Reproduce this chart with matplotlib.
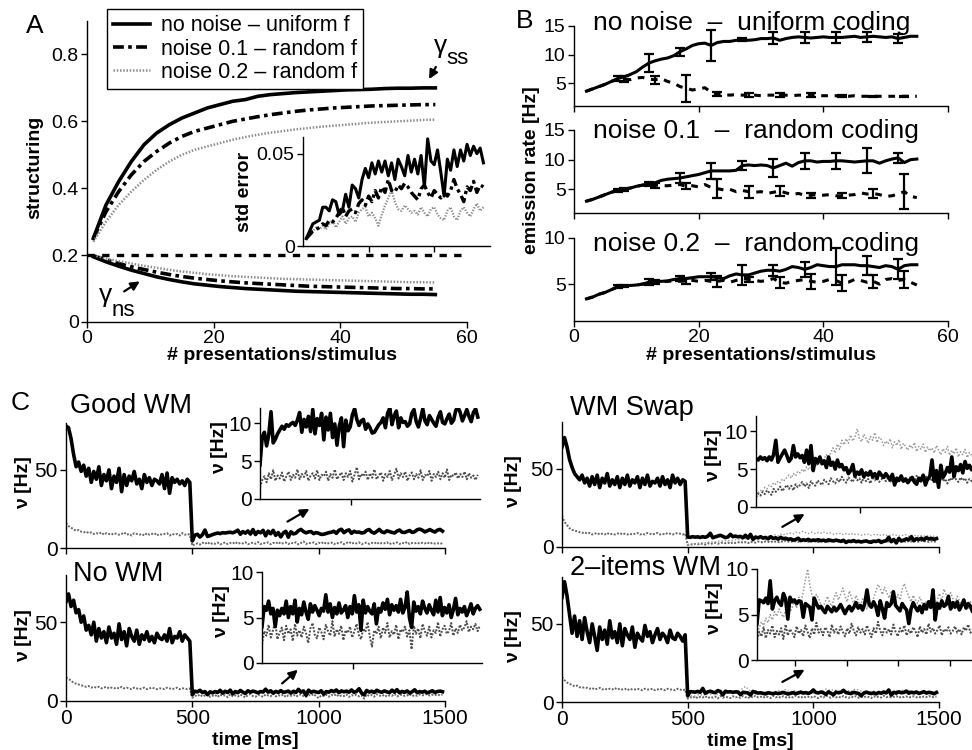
import numpy as np
import matplotlib
matplotlib.use('Agg')
import matplotlib.pyplot as plt

plt.rcParams['font.family'] = ['Liberation Sans', 'DejaVu Sans']
plt.rcParams['axes.linewidth'] = 1.0

# ---------------- panel A : structuring vs presentations ----------------
a_x = np.arange(1, 56, 2)
a_ss_none = [0.25, 0.35, 0.42, 0.48, 0.53, 0.565, 0.59, 0.61, 0.625, 0.64, 0.65, 0.66, 0.665, 0.675,
             0.68, 0.683, 0.686, 0.688, 0.69, 0.692, 0.694, 0.695, 0.696, 0.698, 0.699, 0.699, 0.70, 0.70]
a_ss_n01 = [0.25, 0.33, 0.39, 0.44, 0.48, 0.51, 0.535, 0.555, 0.57, 0.58, 0.59, 0.60, 0.607, 0.614,
            0.62, 0.625, 0.63, 0.634, 0.637, 0.64, 0.642, 0.644, 0.646, 0.647, 0.648, 0.649, 0.65, 0.65]
a_ss_n02 = [0.24, 0.30, 0.35, 0.39, 0.425, 0.455, 0.48, 0.50, 0.515, 0.525, 0.535, 0.545, 0.553, 0.56,
            0.566, 0.571, 0.576, 0.58, 0.584, 0.587, 0.59, 0.593, 0.596, 0.598, 0.60, 0.602, 0.604, 0.605]
a_ns_none = [0.195, 0.18, 0.167, 0.155, 0.145, 0.135, 0.127, 0.12, 0.114, 0.11, 0.106, 0.103, 0.10, 0.098,
             0.096, 0.094, 0.092, 0.091, 0.09, 0.089, 0.088, 0.087, 0.086, 0.085, 0.084, 0.083, 0.083, 0.082]
a_ns_n01 = [0.198, 0.186, 0.175, 0.165, 0.157, 0.149, 0.142, 0.136, 0.131, 0.127, 0.123, 0.12, 0.117, 0.115,
            0.113, 0.111, 0.109, 0.107, 0.106, 0.105, 0.104, 0.103, 0.102, 0.101, 0.10, 0.10, 0.099, 0.099]
a_ns_n02 = [0.20, 0.19, 0.182, 0.175, 0.168, 0.162, 0.156, 0.151, 0.147, 0.143, 0.14, 0.137, 0.135, 0.133,
            0.131, 0.129, 0.128, 0.127, 0.126, 0.125, 0.124, 0.123, 0.122, 0.121, 0.12, 0.119, 0.119, 0.118]
a_chance = 0.2

# inset: std error
se_x = np.arange(1, 56)
se_none = [0.004, 0.008, 0.012, 0.013, 0.014, 0.021, 0.021, 0.019, 0.025, 0.024, 0.017, 0.019, 0.028, 0.021,
           0.033, 0.031, 0.026, 0.036, 0.042, 0.037, 0.045, 0.039, 0.046, 0.040, 0.046, 0.038, 0.045, 0.036,
           0.047, 0.043, 0.038, 0.049, 0.040, 0.047, 0.039, 0.049, 0.032, 0.058, 0.046, 0.044, 0.052, 0.040,
           0.027, 0.047, 0.041, 0.052, 0.043, 0.052, 0.046, 0.055, 0.049, 0.054, 0.050, 0.053, 0.045]
se_n01 = [0.004, 0.006, 0.008, 0.009, 0.010, 0.012, 0.011, 0.014, 0.013, 0.015, 0.018, 0.021, 0.016, 0.019,
          0.020, 0.018, 0.023, 0.025, 0.022, 0.027, 0.024, 0.030, 0.026, 0.032, 0.029, 0.036, 0.030, 0.029,
          0.033, 0.031, 0.034, 0.032, 0.029, 0.027, 0.025, 0.031, 0.033, 0.029, 0.026, 0.030, 0.028, 0.026,
          0.029, 0.027, 0.030, 0.036, 0.031, 0.028, 0.024, 0.032, 0.030, 0.035, 0.029, 0.033, 0.032]
se_n02 = [0.004, 0.007, 0.008, 0.010, 0.009, 0.011, 0.009, 0.012, 0.014, 0.010, 0.013, 0.016, 0.012, 0.015,
          0.016, 0.013, 0.018, 0.020, 0.021, 0.016, 0.018, 0.015, 0.011, 0.017, 0.022, 0.026, 0.030, 0.024,
          0.020, 0.019, 0.022, 0.020, 0.018, 0.019, 0.017, 0.021, 0.018, 0.016, 0.020, 0.021, 0.017, 0.015,
          0.014, 0.019, 0.021, 0.016, 0.014, 0.019, 0.021, 0.018, 0.016, 0.020, 0.023, 0.019, 0.021]

# ---------------- panel B : emission rates ----------------
b_x = np.arange(2, 56)
b1_sel = [3.6, 4.0, 4.4, 4.8, 5.3, 5.8, 6.1, 6.5, 7.0, 7.8, 8.5, 8.9, 9.2, 9.4, 9.8, 10.5, 11.0, 11.6,
          11.9, 12.0, 11.6, 12.1, 12.3, 12.3, 12.5, 12.6, 12.5, 12.6, 12.8, 12.8, 12.9, 12.5, 12.8, 13.0,
          13.1, 13.0, 12.9, 13.0, 13.1, 13.0, 13.0, 13.0, 13.1, 13.2, 13.0, 13.1, 13.2, 13.1, 13.0, 13.1,
          12.8, 13.0, 13.2, 13.2]
b1_non = [3.6, 4.0, 4.4, 4.8, 5.3, 5.7, 5.7, 5.6, 5.9, 6.0, 5.7, 5.6, 5.8, 5.3, 5.0, 4.4, 4.1, 3.8,
          4.0, 4.2, 3.4, 3.1, 3.0, 2.9, 3.0, 2.9, 2.9, 2.9, 2.8, 2.9, 2.9, 2.9, 2.9, 2.8, 2.9, 2.9, 2.9,
          2.8, 2.8, 2.8, 2.8, 2.7, 2.7, 2.8, 2.7, 2.7, 2.7, 2.7, 2.7, 2.7, 2.7, 2.7, 2.7, 2.7]
b2_sel = [3.0, 3.3, 3.7, 4.1, 4.5, 4.8, 5.0, 5.2, 5.5, 5.7, 5.9, 6.1, 6.5, 6.7, 6.8, 6.9, 7.1, 7.3,
          7.5, 7.8, 8.1, 8.1, 8.1, 8.1, 8.2, 9.0, 9.1, 9.0, 9.1, 9.0, 8.6, 9.0, 9.4, 8.9, 9.5, 9.8, 9.8,
          9.6, 9.7, 9.7, 9.8, 9.8, 9.7, 9.6, 9.7, 9.8, 9.8, 9.4, 9.8, 10.1, 10.3, 9.5, 10.0, 10.1]
b2_non = [3.0, 3.3, 3.7, 4.1, 4.5, 4.8, 5.0, 5.2, 5.5, 5.7, 5.8, 5.7, 5.6, 5.6, 5.7, 5.8, 5.5, 5.6,
          5.4, 5.8, 5.3, 5.1, 4.9, 5.0, 4.6, 4.8, 4.6, 4.5, 4.6, 4.3, 4.5, 4.7, 4.4, 4.1, 4.3, 4.0, 4.0,
          4.1, 4.0, 4.1, 3.9, 3.9, 4.0, 4.1, 4.4, 4.2, 4.3, 4.1, 3.8, 3.9, 4.2, 4.6, 3.8, 3.6]
b3_sel = [3.4, 3.6, 3.9, 4.1, 4.4, 4.7, 4.8, 4.85, 4.9, 5.0, 5.2, 5.25, 5.3, 5.35, 5.5, 5.6, 5.6, 5.7,
          5.8, 5.8, 5.8, 5.7, 5.6, 5.9, 6.1, 6.0, 6.0, 6.2, 6.4, 6.5, 6.5, 6.4, 6.6, 6.9, 6.8, 6.6, 6.8,
          7.1, 7.0, 6.9, 6.9, 7.1, 7.1, 7.1, 7.0, 7.0, 6.9, 6.8, 7.0, 6.9, 6.6, 7.0, 7.1, 7.1]
b3_non = [3.4, 3.6, 3.9, 4.1, 4.4, 4.7, 4.8, 4.85, 4.9, 5.0, 5.1, 5.2, 5.25, 5.3, 5.35, 5.3, 5.35, 5.4,
          5.3, 5.4, 5.3, 5.3, 5.4, 5.2, 5.4, 5.6, 5.5, 5.4, 5.3, 5.4, 5.6, 5.2, 5.1, 5.3, 5.4, 5.5, 5.3,
          5.2, 5.3, 5.5, 5.4, 5.1, 5.2, 5.5, 5.4, 5.2, 5.3, 5.0, 5.5, 5.6, 5.4, 5.5, 5.2, 4.9]

b_err_x_sel = [7, 12, 17, 22, 27, 32, 37, 42, 47, 52]
b_err_x_non = [8, 13, 18, 23, 28, 33, 38, 43, 48, 53]
b1_err_sel = [0.4, 1.6, 0.7, 2.7, 0.3, 1.0, 1.0, 1.0, 0.9, 0.8]
b1_err_non = [0.5, 0.7, 2.4, 0.4, 0.4, 0.3, 0.3, 0.15, 0.1, 0.1]
b2_err_sel = [0.3, 0.4, 0.8, 1.3, 0.8, 1.5, 1.4, 1.4, 2.1, 0.8]
b2_err_non = [0.3, 0.4, 0.5, 1.6, 1.0, 0.9, 0.4, 0.4, 0.8, 3.0]
b3_err_sel = [0.15, 0.3, 0.3, 0.4, 1.1, 0.6, 0.8, 2.0, 1.0, 1.1]
b3_err_non = [0.1, 0.2, 0.3, 0.6, 0.3, 0.6, 0.8, 0.9, 0.7, 0.9]
b_titles = ['no noise  \u2013  uniform coding', 'noise 0.1  \u2013  random coding',
            'noise 0.2  \u2013  random coding']

# ---------------- panel C : rates vs time ----------------
t_ms = np.arange(0, 1500, 10)
good_solid = [78, 77, 70, 60, 52, 55, 49, 53, 46, 51,
              42, 49, 44, 52, 40, 47, 43, 50, 38, 46,
              42, 51, 36, 47, 40, 46, 43, 49, 41, 44,
              38, 47, 42, 45, 40, 44, 43, 41, 47, 38,
              48, 35, 45, 42, 44, 41, 43, 40, 44, 42,
              4.5, 8.2, 8.8, 7.0, 8.5, 11.5, 7.4, 7.9, 8.6, 9.1,
              9.6, 9.2, 9.8, 9.6, 9.9, 10.1, 9.7, 10.4, 11.4, 8.8,
              10.5, 9.5, 10.9, 8.9, 11.8, 8.6, 10.6, 9.7, 11.3, 7.8,
              10.8, 9.1, 11.3, 8.1, 9.9, 7.1, 9.6, 10.7, 6.9, 10.4,
              9.0, 9.5, 11.1, 11.9, 10.5, 9.7, 10.3, 10.5, 9.2, 9.9,
              9.4, 8.7, 8.8, 9.3, 9.8, 10.1, 10.7, 9.4, 11.3, 12.0,
              9.8, 11.0, 11.6, 9.4, 10.7, 10.1, 10.2, 9.6, 9.9, 11.3,
              11.8, 10.2, 9.5, 10.6, 11.9, 10.3, 9.8, 11.0, 10.5, 10.0,
              9.6, 10.8, 11.5, 10.1, 9.9, 10.6, 11.2, 10.0, 10.4, 11.7,
              12.1, 11.4, 10.3, 11.0, 11.8, 10.9, 10.2, 11.4, 11.9, 10.8]
good_gray = [16, 14, 13, 12, 11, 11.5, 10.5, 10, 10.5, 9.5,
             10, 9, 9.5, 9, 10, 8.5, 9.5, 9, 8.5, 9.5,
             9, 8.5, 9, 10, 8.5, 9, 8, 9.5, 9, 8.5,
             9, 8, 9.5, 8.5, 9, 9.5, 8, 9, 8.5, 9,
             9.5, 8, 9, 8.5, 9, 8, 9.5, 8.5, 9, 8.5,
             1.5, 2.5, 3.0, 2.2, 3.4, 2.6, 3.8, 2.4, 3.1, 2.7,
             3.5, 2.3, 3.0, 3.6, 2.5, 3.2, 2.8, 3.9, 2.6, 3.3,
             2.9, 3.7, 2.4, 3.1, 3.4, 2.7, 3.8, 2.5, 3.2, 3.0,
             3.6, 2.4, 3.3, 2.8, 3.9, 2.6, 3.1, 3.5, 2.5, 3.4,
             2.9, 3.7, 2.3, 3.2, 4.2, 2.6, 3.3, 3.0, 3.6, 2.5,
             3.4, 2.8, 3.9, 2.6, 3.1, 3.5, 2.4, 3.3, 2.9, 3.7,
             2.5, 3.2, 4.0, 2.7, 3.4, 2.9, 3.6, 2.4, 3.1, 3.5,
             2.6, 3.3, 2.8, 3.8, 2.5, 3.2, 3.0, 3.7, 2.4, 3.3,
             2.9, 3.6, 2.6, 3.4, 2.8, 3.9, 2.5, 3.2, 3.0, 3.5,
             2.7, 3.3, 2.9, 3.6, 2.6, 3.4, 2.8, 3.1, 2.5, 3.2]

nowm_solid = [63, 68, 60, 64, 56, 58, 50, 54, 45, 48,
              42, 50, 38, 46, 40, 44, 37, 47, 40, 43,
              36, 49, 39, 44, 35, 46, 41, 38, 45, 36,
              42, 39, 44, 38, 41, 37, 43, 40, 39, 42,
              38, 46, 37, 41, 40, 44, 38, 42, 40, 38,
              4.0, 6.2, 5.8, 6.8, 5.4, 6.0, 4.0, 5.8, 5.2, 6.0,
              5.4, 6.8, 5.0, 6.2, 5.4, 6.9, 4.5, 6.0, 5.3, 6.7,
              5.6, 4.8, 6.5, 5.6, 6.3, 5.8, 5.2, 6.0, 5.7, 7.5,
              5.6, 6.5, 5.0, 6.1, 5.4, 6.6, 5.5, 5.8, 6.3, 5.0,
              6.2, 5.4, 7.4, 5.6, 6.4, 3.6, 6.9, 5.5, 6.2, 5.7,
              5.4, 6.5, 4.3, 6.0, 5.6, 6.6, 5.9, 7.0, 5.3, 6.4,
              5.8, 6.3, 5.6, 7.0, 5.5, 6.1, 7.8, 5.0, 3.9, 6.7,
              5.7, 6.2, 5.4, 6.8, 6.0, 5.5, 6.4, 5.8, 5.3, 6.9,
              5.6, 7.2, 5.2, 6.1, 5.5, 6.4, 5.0, 5.9, 7.1, 5.3,
              6.0, 5.6, 6.2, 5.2, 5.8, 6.5, 5.4, 6.0, 6.3, 5.9]
nowm_gray = [15, 14, 13, 11.5, 11, 10.5, 10, 9.5, 9, 9.5,
             8.5, 9, 8.5, 9, 8, 8.5, 9, 8, 8.5, 8,
             8.5, 8, 9, 8, 8.5, 8, 7.5, 8.5, 8, 7.5,
             8, 8.5, 7.5, 8, 8.5, 8, 7.5, 8, 8, 7.5,
             8.5, 8, 7.5, 8, 8.5, 7.5, 8, 8, 7.5, 8,
             2.0, 3.5, 3.0, 4.2, 2.8, 3.6, 4.5, 2.6, 3.3, 3.9,
             2.5, 4.1, 3.2, 3.7, 2.4, 4.3, 3.0, 3.6, 2.8, 4.0,
             3.3, 2.2, 3.8, 4.4, 3.1, 2.7, 3.9, 3.4, 2.6, 4.2,
             3.5, 3.0, 4.6, 2.9, 3.7, 3.2, 4.1, 2.5, 3.6, 3.3,
             4.0, 2.8, 3.5, 4.3, 3.1, 2.6, 3.8, 3.4, 4.5, 2.9,
             1.8, 3.6, 3.2, 4.0, 2.7, 3.9, 3.3, 4.4, 2.8, 3.5,
             3.1, 4.2, 2.6, 3.7, 3.4, 4.0, 2.9, 3.6, 1.5, 4.1,
             3.2, 3.8, 2.7, 4.3, 3.5, 3.0, 4.0, 2.8, 3.6, 3.3,
             4.5, 2.9, 3.7, 4.1, 3.2, 3.5, 4.4, 3.0, 3.8, 3.3,
             4.2, 3.6, 3.9, 4.6, 3.4, 4.0, 3.7, 4.3, 3.5, 4.1]

swap_solid = [64, 70, 64, 56, 51, 47, 45, 43, 46, 41,
              44, 39, 45, 40, 46, 38, 44, 41, 47, 39,
              43, 40, 45, 38, 44, 40, 46, 39, 43, 41,
              45, 38, 44, 40, 46, 39, 42, 41, 44, 39,
              45, 40, 43, 38, 46, 41, 44, 40, 43, 42,
              6.4, 6.2, 6.6, 6.3, 6.5, 6.1, 6.6, 6.2, 6.9, 8.8,
              5.9, 6.5, 7.0, 7.5, 6.8, 6.0, 6.4, 8.1, 6.6, 7.0,
              6.5, 6.8, 5.9, 7.5, 5.7, 8.1, 4.8, 6.4, 5.8, 6.6,
              5.7, 6.1, 5.2, 6.6, 5.5, 5.9, 5.0, 6.2, 5.3, 5.6,
              4.9, 5.2, 4.4, 4.8, 5.6, 4.1, 4.6, 4.3, 4.9, 4.0,
              4.5, 4.2, 4.7, 4.0, 4.4, 3.8, 4.6, 4.2, 3.9, 4.4,
              4.0, 3.6, 4.3, 2.9, 3.8, 3.5, 4.1, 3.4, 3.7, 3.2,
              3.6, 3.9, 3.3, 3.0, 3.8, 3.5, 4.2, 2.9, 3.7, 4.0,
              6.2, 3.4, 4.8, 2.6, 5.5, 3.9, 4.4, 5.2, 4.6, 6.6,
              4.0, 5.3, 4.8, 5.6, 4.5, 6.0, 5.1, 5.5, 4.9, 5.4]
swap_gray = [20, 16, 14, 12, 11, 10.5, 10, 9.5, 9, 9.5,
             8.5, 9, 8, 8.5, 9, 8, 8.5, 8, 9, 8,
             8.5, 8, 8.5, 9, 8, 8.5, 8, 8.5, 8, 8.5,
             9, 8, 8.5, 8, 9, 8.5, 8, 8.5, 9, 8,
             8.5, 8, 9, 8.5, 8, 8.5, 9, 8.5, 8, 8.5,
             1.3, 1.8, 1.5, 2.0, 1.7, 2.2, 1.9, 1.6, 2.4, 2.0,
             2.3, 2.7, 2.1, 2.5, 2.9, 2.4, 2.8, 2.2, 3.0, 2.6,
             2.9, 3.3, 2.7, 3.1, 2.5, 3.4, 3.0, 2.8, 3.5, 3.2,
             2.9, 3.6, 3.3, 3.0, 3.8, 3.4, 3.1, 3.7, 3.3, 4.0,
             3.5, 3.2, 3.9, 3.6, 3.3, 4.1, 3.5, 3.8, 3.2, 3.9,
             3.4, 3.7, 3.1, 4.0, 3.5, 3.8, 3.3, 3.6, 4.2, 3.4,
             3.8, 3.2, 3.9, 3.5, 3.1, 4.0, 3.6, 3.3, 3.8, 3.4,
             3.9, 3.5, 3.2, 4.1, 3.6, 3.3, 3.7, 4.2, 3.4, 3.8,
             3.5, 3.9, 3.2, 3.6, 4.0, 3.4, 3.7, 3.1, 3.8, 3.5,
             4.1, 3.6, 3.3, 3.9, 3.5, 3.8, 3.2, 3.7, 3.4, 3.6]
swap_other = [1.5, 1.9, 2.2, 2.0, 2.6, 2.4, 2.9, 2.7, 3.2, 3.0,
              3.4, 3.2, 3.7, 3.5, 3.9, 4.2, 3.8, 4.4, 4.1, 4.7,
              4.5, 5.0, 4.6, 5.3, 4.9, 5.5, 5.2, 5.8, 5.4, 6.1,
              5.8, 6.4, 6.9, 6.3, 7.2, 7.8, 7.1, 8.3, 7.6, 8.8,
              8.2, 9.0, 8.4, 9.5, 8.7, 9.2, 10.3, 9.0, 8.6, 9.6,
              9.1, 8.4, 9.3, 8.8, 9.8, 8.5, 9.2, 8.9, 8.1, 8.7,
              8.3, 9.0, 7.8, 8.6, 8.1, 8.9, 7.6, 8.4, 8.0, 7.5,
              8.2, 7.7, 8.5, 7.3, 8.0, 7.6, 8.3, 7.2, 7.9, 7.4,
              7.8, 7.1, 8.1, 7.5, 6.9, 7.7, 7.2, 8.0, 6.8, 7.5,
              7.0, 7.8, 6.6, 7.3, 6.9, 7.6, 6.5, 7.2, 6.8, 7.4]

two_solid = [67, 77, 68, 56, 44, 55, 42, 52, 40, 54,
             45, 38, 50, 42, 33, 48, 40, 46, 37, 52,
             41, 45, 38, 50, 36, 47, 43, 40, 48, 35,
             44, 41, 39, 49, 42, 45, 38, 43, 47, 40,
             44, 42, 38, 46, 41, 40, 44, 42, 39, 43,
             4.0, 6.6, 6.5, 6.3, 6.8, 6.2, 8.7, 5.6, 6.5, 6.9,
             6.3, 6.0, 7.3, 6.7, 4.5, 6.9, 6.4, 6.6, 6.2, 6.5,
             6.4, 4.7, 6.2, 6.0, 5.8, 4.4, 6.8, 6.2, 5.7, 5.9,
             5.5, 5.2, 5.9, 5.6, 5.3, 5.8, 5.4, 5.7, 6.1, 5.6,
             5.1, 5.6, 5.9, 5.4, 5.8, 6.3, 5.7, 6.0, 5.5, 6.2,
             7.7, 6.1, 5.8, 6.4, 5.9, 4.9, 6.5, 5.6, 4.6, 6.3,
             5.9, 6.2, 7.5, 6.0, 5.7, 5.4, 6.2, 5.8, 5.5, 4.0,
             5.6, 6.3, 5.8, 5.4, 5.9, 5.2, 6.1, 5.6, 6.4, 5.8,
             7.7, 4.4, 6.2, 5.7, 6.5, 5.9, 6.1, 7.0, 5.6, 6.3,
             5.8, 6.4, 5.5, 6.0, 6.6, 5.7, 6.2, 5.9, 5.3, 6.1]
two_gray = [16, 14, 12.5, 11.5, 11, 10, 10.5, 9.5, 9, 9.5,
            9, 8.5, 9, 8, 8.5, 9, 8, 8.5, 8, 8.5,
            8, 9, 8, 8.5, 8, 8.5, 7.5, 8.5, 8, 8,
            8.5, 8, 7.5, 8.5, 8, 8, 8.5, 7.5, 8, 8.5,
            8, 7.5, 8.5, 8, 8, 7.5, 8.5, 8, 7.5, 8,
            2.2, 3.1, 2.6, 3.6, 2.4, 3.3, 2.9, 3.8, 2.5, 3.2,
            2.8, 3.5, 2.3, 3.9, 2.7, 3.4, 3.0, 2.5, 3.7, 2.9,
            3.3, 2.6, 3.8, 3.1, 2.4, 3.5, 2.8, 4.1, 3.0, 3.4,
            2.7, 3.6, 3.2, 2.5, 3.9, 3.0, 3.4, 2.8, 3.7, 3.1,
            2.6, 3.5, 2.9, 4.0, 3.2, 2.7, 3.6, 3.0, 3.4, 2.8,
            3.8, 3.1, 2.5, 3.5, 2.9, 4.2, 3.2, 2.7, 3.6, 3.0,
            3.4, 2.8, 3.9, 3.1, 2.6, 3.5, 3.0, 3.8, 2.7, 3.3,
            2.9, 3.6, 3.2, 2.5, 3.7, 3.0, 3.4, 2.8, 4.0, 3.1,
            3.5, 2.9, 3.3, 3.8, 2.7, 3.4, 3.1, 3.6, 2.9, 3.2,
            3.7, 3.0, 3.4, 2.8, 3.6, 3.2, 3.9, 3.0, 3.3, 3.5]
two_other = [3.0, 3.5, 4.2, 3.8, 4.6, 4.1, 5.0, 4.4, 5.3, 4.8,
             5.6, 5.1, 4.7, 5.5, 6.0, 5.3, 5.8, 6.4, 5.7, 6.9,
             6.2, 7.5, 8.8, 10.0, 8.3, 7.1, 6.5, 7.2, 6.8, 6.1,
             5.7, 6.4, 7.0, 6.3, 5.9, 6.8, 7.4, 6.6, 7.2, 7.9,
             7.0, 6.4, 7.6, 6.8, 6.1, 7.1, 6.5, 5.8, 6.7, 6.2,
             5.6, 6.3, 5.9, 6.8, 7.5, 8.3, 7.9, 7.2, 8.0, 7.4,
             6.8, 7.6, 7.0, 6.5, 7.2, 6.6, 7.8, 8.4, 7.6, 7.0,
             6.4, 7.1, 6.6, 6.2, 6.9, 6.3, 5.8, 6.5, 6.0, 5.5,
             6.2, 5.7, 6.6, 7.3, 6.5, 7.8, 7.1, 6.6, 7.4, 6.8,
             6.2, 7.0, 6.5, 5.9, 6.7, 6.1, 5.6, 6.4, 5.8, 6.0]

W, H = 972, 750
fig = plt.figure(figsize=(W / 100, H / 100), dpi=100)


def box(left, top, right, bottom):
    # pixel box -> figure fraction rect
    return [left / W, 1 - bottom / H, (right - left) / W, (bottom - top) / H]


def style(ax, size=14):
    ax.spines['top'].set_visible(False)
    ax.spines['right'].set_visible(False)
    ax.tick_params(direction='out', length=4, width=1, labelsize=size, pad=2)


# ---------------- A ----------------
axA = fig.add_axes(box(87, 21, 467, 322))
style(axA)
l1, = axA.plot(a_x, a_ss_none, color='k', lw=2.6)
l2, = axA.plot(a_x, a_ss_n01, color='k', lw=2.6, ls=(0, (3, 1.2, 1, 1.2)))
l3, = axA.plot(a_x, a_ss_n02, color='0.55', lw=1.8, ls=(0, (0.6, 0.7)))
axA.plot(a_x, a_ns_none, color='k', lw=2.6)
axA.plot(a_x, a_ns_n01, color='k', lw=2.6, ls=(0, (3, 1.2, 1, 1.2)))
axA.plot(a_x, a_ns_n02, color='0.55', lw=1.8, ls=(0, (0.6, 0.7)))
axA.axhline(a_chance, xmin=0, xmax=1, color='k', lw=2.4, ls=(0, (2.2, 2.2)))
axA.set_xlim(0, 60)
axA.set_ylim(0, 0.9)
axA.set_xticks([0, 20, 40, 60])
axA.set_yticks([0, 0.2, 0.4, 0.6, 0.8])
axA.set_yticklabels(['0', '0.2', '0.4', '0.6', '0.8'])
axA.set_ylabel('structuring', fontsize=14, fontweight='bold')
axA.yaxis.set_label_coords(-0.116, 0.515)
axA.set_xlabel('# presentations/stimulus', fontsize=14, fontweight='bold')
axA.xaxis.set_label_coords(0.513, -0.084)
fig.legend([l1, l2, l3], ['no noise \u2013 uniform f', 'noise 0.1 \u2013 random f', 'noise 0.2 \u2013 random f'],
           loc='upper left', bbox_to_anchor=(107 / W, 1 - 9 / H), fontsize=15.5, frameon=True,
           fancybox=False, edgecolor='k', framealpha=1, handlelength=1.7, borderpad=0.3,
           labelspacing=0.1, handletextpad=0.5, borderaxespad=0)

axA.annotate('', xy=(53.8, 0.719), xytext=(55.3, 0.77),
             arrowprops=dict(arrowstyle='-|>', color='k', lw=1.6, mutation_scale=13))
axA.annotate('', xy=(8.7, 0.126), xytext=(5.5, 0.087),
             arrowprops=dict(arrowstyle='-|>', color='k', lw=1.6, mutation_scale=13))
fig.text(441 / W, 1 - 46 / H, '\u03b3', fontsize=19, ha='center', va='center')
fig.text(457 / W, 1 - 59 / H, 'ss', fontsize=16, ha='center', va='center')
fig.text(106 / W, 1 - 295 / H, '\u03b3', fontsize=19, ha='center', va='center')
fig.text(123 / W, 1 - 310 / H, 'ns', fontsize=16, ha='center', va='center')

axAi = fig.add_axes(box(303, 137, 490, 246))
style(axAi)
axAi.patch.set_alpha(0)
axAi.plot(se_x, se_n02, color='0.55', lw=1.6, ls=(0, (0.6, 0.7)))
axAi.plot(se_x, se_n01, color='k', lw=2.4, ls=(0, (3, 1.2, 1, 1.2)))
axAi.plot(se_x, se_none, color='k', lw=2.2)
axAi.set_xlim(0, 57)
axAi.set_ylim(0, 0.059)
axAi.set_xticks([20, 40])
axAi.set_xticklabels([])
axAi.set_yticks([0, 0.05])
axAi.set_yticklabels(['0', '0.05'])
axAi.set_ylabel('std error', fontsize=14, fontweight='bold')
axAi.yaxis.set_label_coords(-0.27, 0.5)

fig.text(35 / W, 1 - 26 / H, 'A', fontsize=19, ha='center', va='center')

# ---------------- B ----------------
b_rects = [box(574, 26, 948, 106), box(574, 130, 948, 213), box(574, 238, 948, 321)]
b_sel = [b1_sel, b2_sel, b3_sel]
b_non = [b1_non, b2_non, b3_non]
b_esel = [b1_err_sel, b2_err_sel, b3_err_sel]
b_enon = [b1_err_non, b2_err_non, b3_err_non]
b_ylims = [(1, 15), (1, 15), (1, 10)]
b_yticks = [[5, 10, 15], [5, 10, 15], [5, 10]]
b_title_y = [0.95, 0.904, 0.843]
for i in range(3):
    ax = fig.add_axes(b_rects[i])
    style(ax)
    sel = np.array(b_sel[i])
    non = np.array(b_non[i])
    ax.plot(b_x, sel, color='k', lw=2.2)
    ax.plot(b_x, non, color='k', lw=2.2, ls=(0, (2.2, 2.2)))
    idx_s = [list(b_x).index(v) for v in b_err_x_sel]
    idx_n = [list(b_x).index(v) for v in b_err_x_non]
    ax.errorbar(b_err_x_sel, sel[idx_s], yerr=b_esel[i], fmt='none', ecolor='k',
                elinewidth=1.6, capsize=3.5, capthick=1.6)
    ax.errorbar(b_err_x_non, non[idx_n], yerr=b_enon[i], fmt='none', ecolor='k',
                elinewidth=1.6, capsize=3.5, capthick=1.6)
    ax.set_xlim(0, 60)
    ax.set_ylim(*b_ylims[i])
    ax.set_yticks(b_yticks[i])
    ax.set_xticks([0, 20, 40, 60])
    if i < 2:
        ax.set_xticklabels([])
    else:
        ax.set_xlabel('# presentations/stimulus', fontsize=14, fontweight='bold')
        ax.xaxis.set_label_coords(0.5, -0.313)
    ax.text(0.05, b_title_y[i], b_titles[i], transform=ax.transAxes, fontsize=19,
            ha='left', va='baseline')
fig.text(531 / W, 1 - 170 / H, 'emission rate [Hz]', fontsize=14, fontweight='bold',
         rotation=90, ha='center', va='center')
fig.text(525 / W, 1 - 21 / H, 'B', fontsize=19, ha='center', va='center')

# ---------------- C ----------------
c_panels = [
    dict(name='Good WM', solid=good_solid, gray=good_gray, other=None,
         main=box(66, 423, 445, 548), inset=box(260, 408, 480, 499), ilim=12,
         iticks=[914], title=(70, 413), arrow=((867, 16), (973, 26)), bottom=False,
         ylx=-0.09, iylx=-0.145),
    dict(name='No WM', solid=nowm_solid, gray=nowm_gray, other=None,
         main=box(66, 575, 445, 701), inset=box(262, 572, 482, 663), ilim=10,
         iticks=[914], title=(73, 581), arrow=((847, 10), (926, 21)), bottom=True,
         ylx=-0.09, iylx=-0.145),
    dict(name='WM Swap', solid=swap_solid, gray=swap_gray, other=swap_other,
         main=box(562, 422, 939, 547), inset=box(756, 416, 976, 507), ilim=12,
         iticks=[973], title=(570, 415), arrow=((867, 12), (975, 22)), bottom=False,
         ylx=-0.106, iylx=-0.155),
    dict(name='2\u2013items WM', solid=two_solid, gray=two_gray, other=two_other,
         main=box(562, 577, 939, 702), inset=box(757, 569, 977, 660), ilim=10,
         iticks=[673, 909, 1141, 1377], title=(570, 575), arrow=((867, 12), (975, 21.5)),
         bottom=True, ylx=-0.106, iylx=-0.155),
]
t_post = t_ms[50:]
for p in c_panels:
    ax = fig.add_axes(p['main'])
    style(ax, 15)
    ax.plot(t_ms, p['gray'], color='0.4', lw=1.4, ls=(0, (1, 0.8)))
    if p['other'] is not None:
        ax.plot(t_post, p['other'], color='0.6', lw=1.0, ls=(0, (1, 1.5)))
    ax.plot(t_ms, p['solid'], color='k', lw=2.6)
    ax.set_xlim(0, 1500)
    ax.set_ylim(0, 80)
    ax.set_xticks([0, 500, 1000, 1500])
    ax.set_yticks([0, 50])
    if p['bottom']:
        ax.set_xlabel('time [ms]', fontsize=14, fontweight='bold')
        ax.xaxis.set_label_coords(0.5, -0.245)
    else:
        ax.set_xticklabels([])
    ax.set_ylabel('\u03bd [Hz]', fontsize=14, fontweight='bold')
    ax.yaxis.set_label_coords(p['ylx'], 0.52)
    (tx, ty), (hx, hy) = p['arrow']
    ax.annotate('', xy=(hx, hy), xytext=(tx, ty),
                arrowprops=dict(arrowstyle='-|>', color='k', lw=1.6, mutation_scale=13))
    fig.text(p['title'][0] / W, 1 - p['title'][1] / H, p['name'], fontsize=19.5,
             ha='left', va='baseline')

    axi = fig.add_axes(p['inset'])
    style(axi, 15)
    axi.patch.set_alpha(0)
    axi.plot(t_post, np.array(p['gray'])[50:], color='0.3', lw=1.4, ls=(0, (1, 0.8)))
    if p['other'] is not None:
        axi.plot(t_post, p['other'], color='0.6', lw=1.1, ls=(0, (1, 1.2)))
    axi.plot(t_post, np.array(p['solid'])[50:], color='k', lw=2.6)
    axi.set_xlim(500, 1500)
    axi.set_ylim(0, p['ilim'])
    axi.set_yticks([0, 5, 10])
    axi.set_xticks(p['iticks'])
    axi.set_xticklabels([])
    axi.set_ylabel('\u03bd [Hz]', fontsize=14, fontweight='bold')
    axi.yaxis.set_label_coords(p['iylx'], 0.57)

fig.text(20 / W, 1 - 403 / H, 'C', fontsize=19, ha='center', va='center')

fig.savefig('out.png', dpi=100)
